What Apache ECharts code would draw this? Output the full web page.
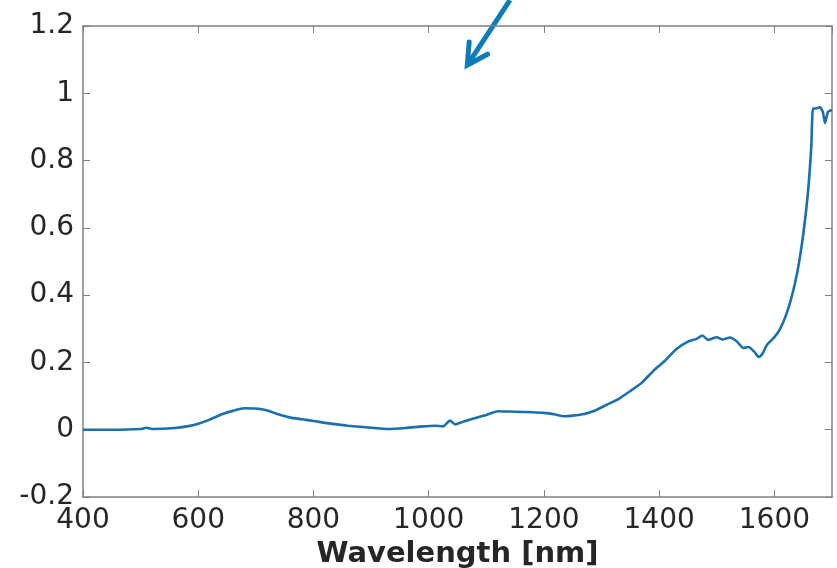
<!DOCTYPE html>
<html>
<head>
<meta charset="utf-8">
<script src="https://cdn.jsdelivr.net/npm/echarts@6/dist/echarts.min.js"></script>
<style>
  html, body { margin: 0; padding: 0; background: #fff; }
  #chart { width: 837px; height: 568px; }
</style>
</head>
<body>
<div id="chart"></div>
<script>
// spectrum
const wavelengths = [400,450,500,510,520,560,580,600,620,640,660,680,700,720,740,760,780,800,830,860,900,930,960,990,1010,1025,1037,1046,1060,1080,1100,1120,1140,1160,1180,1200,1220,1235,1250,1270,1290,1310,1330,1350,1370,1390,1410,1430,1450,1465,1475,1485,1500,1510,1523,1535,1546,1555,1565,1573,1580,1587,1600,1610,1620,1630,1640,1650,1658,1664,1667,1672,1679,1684,1688,1693,1700];
const values = [0,0,0.002,0.006,0.002,0.005,0.01,0.018,0.03,0.045,0.056,0.064,0.063,0.057,0.045,0.036,0.031,0.026,0.018,0.012,0.006,0.002,0.005,0.01,0.012,0.01,0.027,0.016,0.024,0.034,0.044,0.055,0.054,0.053,0.052,0.05,0.045,0.04,0.042,0.047,0.058,0.075,0.092,0.115,0.14,0.175,0.205,0.24,0.262,0.27,0.28,0.267,0.275,0.268,0.274,0.262,0.243,0.246,0.232,0.216,0.228,0.252,0.275,0.3,0.34,0.395,0.47,0.58,0.7,0.84,0.955,0.955,0.958,0.945,0.912,0.945,0.95];
const xTicks = [400, 600, 800, 1000, 1200, 1400, 1600];
const yTicks = [-0.2, 0, 0.2, 0.4, 0.6, 0.8, 1, 1.2];
// annotation arrow (data coords), start lies above the plot box
const arrowFrom = [1141, 1.277];
const arrowTo = [1067, 1.084];

const chart = echarts.init(document.getElementById('chart'));
const axisColor = '#808080';
const labelFont = { fontFamily: 'DejaVu Sans', fontSize: 28, color: '#262626' };

const boxAxis = {
  axisLine: { show: true, onZero: false, lineStyle: { color: axisColor, width: 1.5 } },
  axisTick: { show: true, inside: true, length: 7, lineStyle: { color: axisColor } },
  splitLine: { show: false }
};

const option = {
  animation: false,
  grid: { left: 83, right: 5, top: 26, bottom: 71, outerBoundsMode: 'none' },
  xAxis: [
    Object.assign({
      type: 'value', min: 400, max: 1700, interval: 200,
      name: 'Wavelength [nm]', nameLocation: 'middle', nameGap: 39,
      nameTextStyle: { fontFamily: 'DejaVu Sans', fontSize: 29, fontWeight: 'bold', color: '#262626' },
      axisLabel: Object.assign({ margin: 10, showMaxLabel: false,
        formatter: v => xTicks.includes(v) ? String(v) : '' }, labelFont)
    }, boxAxis),
    Object.assign({
      type: 'value', min: 400, max: 1700, interval: 200, position: 'top',
      axisLabel: { show: false }
    }, boxAxis)
  ],
  yAxis: [
    Object.assign({
      type: 'value', min: -0.2, max: 1.2, interval: 0.2,
      axisLabel: Object.assign({ margin: 9,
        formatter: v => {
          const r = Math.round(v * 10) / 10;
          return yTicks.includes(r) ? String(r) : '';
        } }, labelFont)
    }, boxAxis),
    Object.assign({
      type: 'value', min: -0.2, max: 1.2, interval: 0.2, position: 'right',
      axisLabel: { show: false }
    }, boxAxis)
  ],
  series: [
    {
      type: 'line',
      data: wavelengths.map((w, i) => [w, values[i]]),
      showSymbol: false,
      clip: false,
      smooth: 0.2,
      lineStyle: { color: '#1b6fae', width: 2.6 }
    }
  ]
};
chart.setOption(option);

// arrow drawn through the grid's own scales
const p1 = chart.convertToPixel({ gridIndex: 0 }, arrowFrom);
const p2 = chart.convertToPixel({ gridIndex: 0 }, arrowTo);
const ang = Math.atan2(p1[1] - p2[1], p1[0] - p2[0]);
const headLen = 23, spread = 0.5;
const armA = [p2[0] + headLen * Math.cos(ang + spread), p2[1] + headLen * Math.sin(ang + spread)];
const armB = [p2[0] + headLen * Math.cos(ang - spread), p2[1] + headLen * Math.sin(ang - spread)];
chart.setOption({
  graphic: [
    {
      type: 'polyline', silent: true,
      shape: { points: [p1, p2] },
      style: { stroke: '#0a7db8', lineWidth: 5, fill: null }
    },
    {
      type: 'polyline', silent: true,
      shape: { points: [armA, p2, armB] },
      style: { stroke: '#0a7db8', lineWidth: 5, fill: null, lineJoin: 'miter', lineCap: 'round' }
    }
  ]
});
</script>
</body>
</html>
